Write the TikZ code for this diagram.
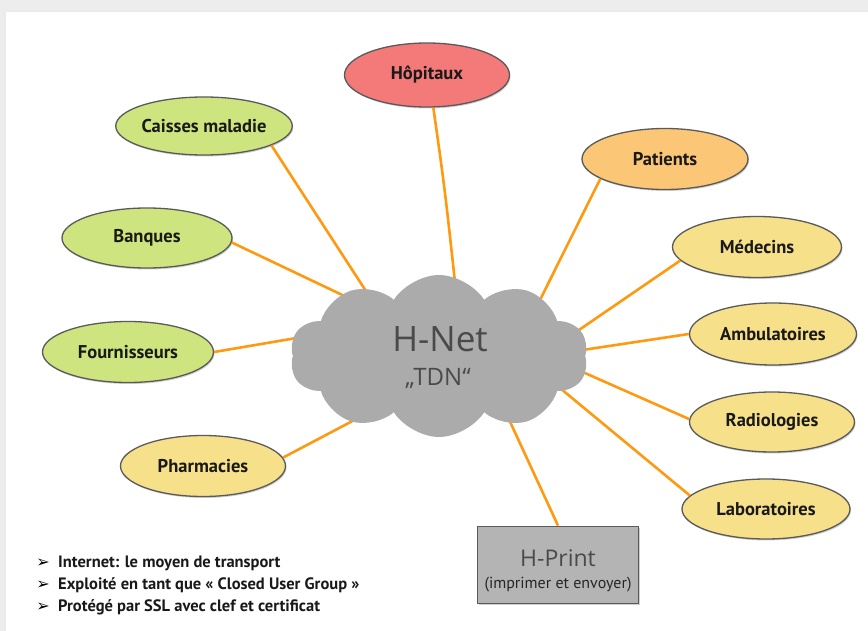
\documentclass[tikz,border=0pt]{standalone}
\usepackage{fontspec}
\setmainfont{PT Sans}
\newfontfamily\cloudfont{Open Sans}
\newfontfamily\symfont{DejaVu Sans}
\usetikzlibrary{shapes.geometric,shapes.symbols,shadows}
\definecolor{bgGray}{HTML}{EDEDED}
\definecolor{linkOrange}{HTML}{FF9A10}
\definecolor{redFill}{HTML}{F47A7A}
\definecolor{greenFill}{HTML}{CEE57F}
\definecolor{orangeFill}{HTML}{FBC676}
\definecolor{yellowFill}{HTML}{F7E08A}
\definecolor{edgeGray}{HTML}{5A5A5A}
\definecolor{cloudGray}{HTML}{ABABAB}
\definecolor{textGray}{HTML}{4A4A4A}
\definecolor{boxGray}{HTML}{B4B4B4}
\tikzset{
  oval/.style={ellipse, draw=edgeGray, line width=1.3pt, minimum width=166pt, minimum height=61pt,
    inner sep=0pt, font=\fontsize{18.5}{20}\selectfont\bfseries, text=black!90,
    drop shadow={shadow xshift=1pt, shadow yshift=-1.5pt, fill=black!30, opacity=.6}},
  greenoval/.style={oval, fill=greenFill},
  yellowoval/.style={oval, fill=yellowFill},
  link/.style={draw=linkOrange, line width=2.6pt},
  bullet/.style={anchor=west, inner sep=0pt, font=\fontsize{16.5}{18}\selectfont\bfseries, text=black!90},
  marker/.style={anchor=east, inner sep=0pt, font=\symfont\fontsize{16}{18}\selectfont}
}
\begin{document}
\begin{tikzpicture}[x=1pt,y=-1pt]
\useasboundingbox (0,0) rectangle (868,631);
% page background
\fill[bgGray] (0,0) rectangle (868,631);
\fill[black!8] (4,10) rectangle (868,631);
\fill[white] (6,12) rectangle (868,631);

% nodes
\node[oval, fill=redFill, minimum width=165pt, minimum height=64pt] (hop) at (427,75) {Hôpitaux};
\node[greenoval, minimum width=167pt, minimum height=58pt] (cai) at (204,126) {Caisses maladie};
\node[oval, fill=orangeFill] (pat) at (665,159) {Patients};
\node[greenoval, minimum width=170pt, minimum height=60pt] (ban) at (147,238) {Banques};
\node[yellowoval, minimum width=169pt] (med) at (757,247) {Médecins};
\node[greenoval, minimum width=171pt] (fou) at (128,352) {Fournisseurs};
\node[yellowoval, minimum width=167pt, minimum height=62pt] (amb) at (773,334) {Ambulatoires};
\node[yellowoval, minimum width=165pt, minimum height=60pt] (rad) at (772,422) {Radiologies};
\node[yellowoval, minimum width=165pt] (pha) at (203,466) {Pharmacies};
\node[yellowoval, minimum width=168pt, minimum height=60pt] (lab) at (766,509) {Laboratoires};
\node[rectangle, draw=edgeGray, line width=1.8pt, fill=boxGray, minimum width=161pt, minimum height=77pt,
  drop shadow={shadow xshift=1pt, shadow yshift=-1.5pt, fill=black!30, opacity=.6}] (hp) at (558,565) {};
\node[text=textGray, font=\cloudfont\fontsize{23}{25}\selectfont, inner sep=0pt] (hpt) at (558,558) {H-Print};
\node[text=black!85, font=\fontsize{16}{18}\selectfont, inner sep=0pt] (hps) at (558,585) {(imprimer et envoyer)};

% hidden connection points inside the cloud
\coordinate (c1) at (375,305);
\coordinate (c2) at (458,310);
\coordinate (c3) at (534,312);
\coordinate (c4) at (357,302);
\coordinate (c5) at (560,343);
\coordinate (c6) at (320,334);
\coordinate (c7) at (556,354);
\coordinate (c8) at (560,362);
\coordinate (c9) at (381,406);
\coordinate (c10) at (543,374);
\coordinate (c11) at (500,400);

% connectors
\draw[link] (cai.-16) -- (c1);
\draw[link] (hop.-79) .. controls (445,190) .. (c2);
\draw[link] (pat.197) -- (c3);
\draw[link] (ban.-3) -- (c4);
\draw[link] (med.190) -- (c5);
\draw[link] (fou.0) -- (c6);
\draw[link] (amb.180) -- (c7);
\draw[link] (rad.178) -- (c8);
\draw[link] (pha.6) -- (c9);
\draw[link] (lab.170) -- (c10);
\draw[link] (hp.north) -- (c11);

% cloud
\node[cloud, cloud puffs=10, cloud puff arc=115, aspect=1.85, fill=cloudGray, draw=none,
  minimum width=298pt, minimum height=162pt, inner sep=0pt] (net) at (439,356) {};
\node[text=textGray, font=\cloudfont\fontsize{35}{37}\selectfont, inner sep=0pt] (nett) at (440,339) {H-Net};
\node[text=textGray, font=\cloudfont\fontsize{24}{26}\selectfont, inner sep=0pt] (tdn) at (438,378) {„TDN“};

% bullet list
\node[bullet] (b1) at (58,563) {Internet: le moyen de transport};
\node[bullet] (b2) at (58,585) {Exploité en tant que « Closed User Group »};
\node[bullet] (b3) at (58,607) {Protégé par SSL avec clef et certificat};
\node[marker] (m1) at (50,563) {➢};
\node[marker] (m2) at (50,585) {➢};
\node[marker] (m3) at (50,607) {➢};
\end{tikzpicture}
\end{document}
